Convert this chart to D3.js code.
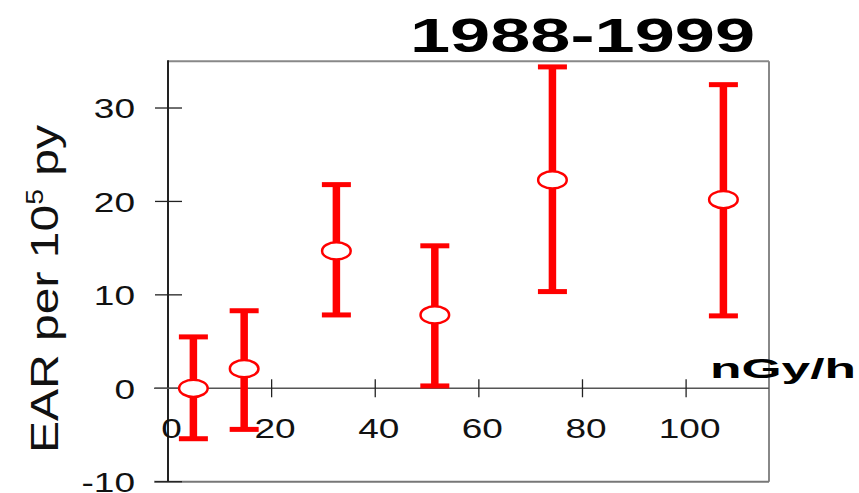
<!DOCTYPE html>
<html>
<head>
<meta charset="utf-8">
<script src="https://cdn.jsdelivr.net/npm/d3@7"></script>
<style>
  html, body { margin: 0; padding: 0; background: #fff; }
  svg { display: block; font-family: "Liberation Sans", Arial, sans-serif; }
</style>
</head>
<body>
<svg id="chart" width="859" height="493"></svg>
<script>
// Excess absolute risk by dose-rate group, 1988-1999
const doseRate = [4.9, 14.7, 32.5, 51.5, 74.2, 107.2];   // nGy/h
const ear      = [0, 2.1, 14.7, 7.85, 22.3, 20.2];       // EAR per 10^5 py
const ciLower  = [-5.4, -4.4, 7.85, 0.25, 10.35, 7.75];
const ciUpper  = [5.5, 8.3, 21.8, 15.25, 34.4, 32.5];

const xTicks = [0, 20, 40, 60, 80, 100];
const yTicks = [-10, 0, 10, 20, 30];

const titleText = "1988-1999";
const xUnit = "nGy/h";

const svg = d3.select("#chart");

const x = d3.scaleLinear().domain([0, 116]).range([168, 769]);
const y = d3.scaleLinear().domain([-10, 35]).range([481.7, 61.3]);

// plain hyphen-minus for negative tick values
const fmt = d => String(d);

// widen text horizontally by a factor
function widen(sel, f) {
  sel.each(function () {
    const w = this.getComputedTextLength();
    d3.select(this).attr("textLength", w * f).attr("lengthAdjust", "spacingAndGlyphs");
  });
}

// plot frame
const [x0, x1] = x.range();
const [yb, yt] = y.range();
svg.append("line").attr("x1", x0).attr("x2", x1).attr("y1", yt).attr("y2", yt)
  .attr("stroke", "#888").attr("stroke-width", 2);
svg.append("line").attr("x1", x1).attr("x2", x1).attr("y1", yt).attr("y2", yb)
  .attr("stroke", "#888").attr("stroke-width", 2);
svg.append("line").attr("x1", 154).attr("x2", x1).attr("y1", yb).attr("y2", yb)
  .attr("stroke", "#777").attr("stroke-width", 2);

// y axis
const yAxis = d3.axisLeft(y).tickValues(yTicks).tickSize(0).tickPadding(33)
  .tickFormat(fmt);
const gy = svg.append("g").attr("transform", `translate(${x0},0)`).call(yAxis);
gy.select(".domain").remove();
gy.selectAll("text").attr("font-size", 27).attr("fill", "#111")
  .attr("font-family", "Liberation Sans, Arial, sans-serif").attr("dy", "0.36em");
widen(gy.selectAll("text"), 1.37);
svg.append("line").attr("x1", x0).attr("x2", x0).attr("y1", yt - 1).attr("y2", yb)
  .attr("stroke", "#222").attr("stroke-width", 2);
svg.append("g").selectAll("line").data(yTicks).join("line")
  .attr("x1", 155).attr("x2", 182)
  .attr("y1", d => y(d)).attr("y2", d => y(d))
  .attr("stroke", "#222").attr("stroke-width", 1.3);

// x axis along EAR = 0
svg.append("line").attr("x1", 154).attr("x2", x1).attr("y1", y(0)).attr("y2", y(0))
  .attr("stroke", "#555").attr("stroke-width", 1.5);
const xAxis = d3.axisBottom(x).tickValues(xTicks).tickSize(0).tickPadding(0)
  .tickFormat(fmt);
const gx = svg.append("g").attr("transform", `translate(3,${y(0)})`).call(xAxis);
gx.select(".domain").remove();
gx.selectAll("text").attr("font-size", 27).attr("fill", "#111")
  .attr("font-family", "Liberation Sans, Arial, sans-serif")
  .attr("y", 50).attr("dy", 0);
widen(gx.selectAll("text"), 1.37);
svg.append("g").selectAll("line").data(xTicks.filter(d => d > 0)).join("line")
  .attr("x1", d => x(d)).attr("x2", d => x(d))
  .attr("y1", y(0) - 9).attr("y2", y(0) + 9)
  .attr("stroke", "#222").attr("stroke-width", 1.3);

// error bars
const pts = doseRate.map((d, i) => ({ x: d, v: ear[i], lo: ciLower[i], hi: ciUpper[i] }));
const bars = svg.append("g");
bars.selectAll("line.stem").data(pts).join("line").attr("class", "stem")
  .attr("x1", d => x(d.x)).attr("x2", d => x(d.x))
  .attr("y1", d => y(d.lo)).attr("y2", d => y(d.hi))
  .attr("stroke", "#ff0000").attr("stroke-width", 7.5);
bars.selectAll("line.capHi").data(pts).join("line").attr("class", "capHi")
  .attr("x1", d => x(d.x) - 14.5).attr("x2", d => x(d.x) + 14.5)
  .attr("y1", d => y(d.hi)).attr("y2", d => y(d.hi))
  .attr("stroke", "#ff0000").attr("stroke-width", 5);
bars.selectAll("line.capLo").data(pts).join("line").attr("class", "capLo")
  .attr("x1", d => x(d.x) - 14.5).attr("x2", d => x(d.x) + 14.5)
  .attr("y1", d => y(d.lo)).attr("y2", d => y(d.lo))
  .attr("stroke", "#ff0000").attr("stroke-width", 5);

// point estimates
svg.append("g").selectAll("ellipse").data(pts).join("ellipse")
  .attr("cx", d => x(d.x)).attr("cy", d => y(d.v))
  .attr("rx", 14.3).attr("ry", 8.6)
  .attr("fill", "#fff").attr("stroke", "#ff0000").attr("stroke-width", 2.5);

// axis titles
const yl = svg.append("text")
  .attr("transform", "translate(58,453) rotate(-90)")
  .attr("font-size", 39).attr("fill", "#111");
yl.append("tspan").text("EAR per 10");
yl.append("tspan").text("5").attr("font-size", 23).attr("dy", -15);
yl.append("tspan").text(" py").attr("dy", 15);
yl.attr("textLength", 328).attr("lengthAdjust", "spacingAndGlyphs");

const xu = svg.append("text").attr("x", 710).attr("y", 378)
  .attr("font-size", 28).attr("font-weight", "bold").attr("fill", "#000").text(xUnit);
xu.attr("textLength", 146).attr("lengthAdjust", "spacingAndGlyphs");

// title
const tt = svg.append("text").attr("x", 410).attr("y", 52)
  .attr("font-size", 48).attr("font-weight", "bold").attr("fill", "#000").text(titleText);
tt.attr("textLength", 345).attr("lengthAdjust", "spacingAndGlyphs");
</script>
</body>
</html>
